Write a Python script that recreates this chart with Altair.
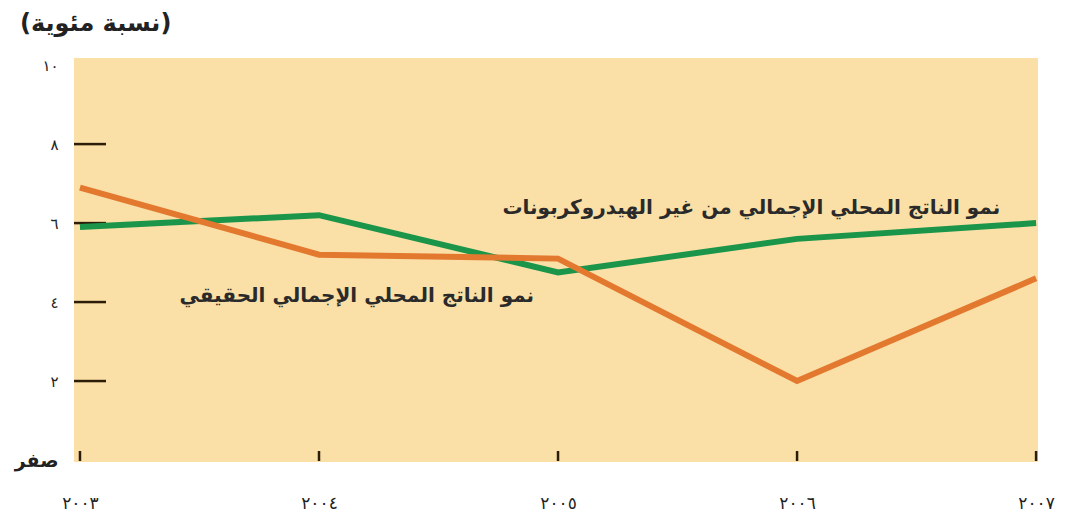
import altair as alt
import pandas as pd

years = [2003, 2004, 2005, 2006, 2007]
year_labels = ["٢٠٠٣", "٢٠٠٤", "٢٠٠٥", "٢٠٠٦", "٢٠٠٧"]
non_hydro = [5.9, 6.2, 4.75, 5.6, 6.0]
real_gdp = [6.9, 5.2, 5.1, 2.0, 4.6]
y_ticks = [0, 2, 4, 6, 8, 10]
y_tick_labels = ["صفر", "٢", "٤", "٦", "٨", "١٠"]
inner_ticks = [2, 4, 6, 8]
series_names = ["نمو الناتج المحلي الإجمالي من غير الهيدروكربونات",
                "نمو الناتج المحلي الإجمالي الحقيقي"]
label_x = [2006.85, 2004.9]
label_y = [6.38, 4.15]
title_text = "(نسبة مئوية)"

FONT = "DejaVu Sans"
W, H = 964, 404
GREEN = "#1a9549"
ORANGE = "#e3782f"

df = pd.DataFrame({
    "year": years * 2,
    "value": non_hydro + real_gdp,
    "series": [series_names[0]] * 5 + [series_names[1]] * 5,
})
lab_df = pd.DataFrame({"year": label_x, "value": label_y, "text": series_names})
ytick_df = pd.DataFrame({"value": inner_ticks})
xtick_df = pd.DataFrame({"year": years})


def expr_map(keys, labels):
    e = "''"
    for k, l in reversed(list(zip(keys, labels))):
        e = f"datum.value == {k} ? '{l}' : ({e})"
    return e


xscale = alt.Scale(domain=[2002.975, 2007.008], nice=False, zero=False)
yscale = alt.Scale(domain=[-0.05, 10.18], nice=False, zero=False)

xaxis = alt.Axis(values=years, labelExpr=expr_map(years, year_labels), ticks=False,
                 domain=False, grid=False, title=None, labelFont=FONT, labelFontSize=17,
                 labelColor="#222", labelPadding=33, labelBaseline="top", labelFlush=False)
yaxis = alt.Axis(values=y_ticks, labelExpr=expr_map(y_ticks, y_tick_labels), ticks=False,
                 domain=False, grid=False, title=None, labelFont=FONT,
                 labelFontSize=alt.ExprRef("datum.value == 0 ? 19 : 15"),
                 labelColor="#222", labelPadding=16,
                 labelFontWeight=alt.ExprRef("datum.value == 0 ? 'bold' : 'normal'"))

base = alt.Chart(df)

lines = base.mark_line(strokeWidth=6, strokeCap="butt").encode(
    x=alt.X("year:Q", scale=xscale, axis=xaxis),
    y=alt.Y("value:Q", scale=yscale, axis=yaxis),
    color=alt.Color("series:N", scale=alt.Scale(domain=series_names, range=[GREEN, ORANGE]),
                    legend=None),
)

yticks = alt.Chart(ytick_df).mark_rule(color="#2b1d08", strokeWidth=2.5).encode(
    y=alt.Y("value:Q", scale=yscale),
    x=alt.value(0), x2=alt.value(32),
)

xticks = alt.Chart(xtick_df).mark_rule(color="#2b1d08", strokeWidth=2.5).encode(
    x=alt.X("year:Q", scale=xscale),
    y=alt.value(H - 11), y2=alt.value(H - 1),
)

labels = alt.Chart(lab_df).mark_text(align="right", baseline="middle", font=FONT,
                                     fontSize=20, fontWeight="bold", color="#2a2a2a").encode(
    x=alt.X("year:Q", scale=xscale),
    y=alt.Y("value:Q", scale=yscale),
    text="text:N",
)

chart = alt.layer(yticks, xticks, lines, labels).properties(
    width=W, height=H,
    background="white",
    title=alt.TitleParams(title_text, anchor="start", frame="group", dx=-54, offset=22,
                          font=FONT, fontSize=24, fontWeight="bold", color="#222"),
    autosize=alt.AutoSizeParams(type="none"),
    padding={"left": 74, "top": 58, "right": 30, "bottom": 57},
).configure_view(fill="#fadfa6", stroke=None)

chart.save("out.html", embed_options={"renderer": "svg", "actions": False})
